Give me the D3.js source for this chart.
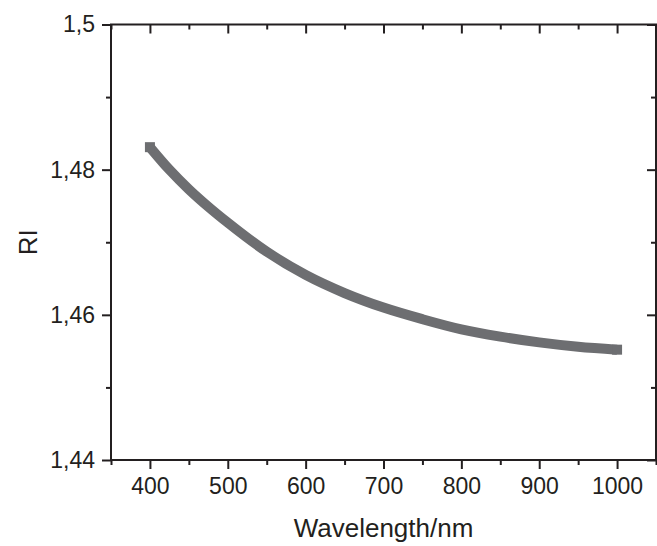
<!DOCTYPE html>
<html>
<head>
<meta charset="utf-8">
<script src="https://cdn.jsdelivr.net/npm/d3@7"></script>
<style>
  body { margin: 0; background: #fff; }
  text { font-family: "Liberation Sans", Arial, sans-serif; fill: #231f20; }
</style>
</head>
<body>
<div id="chart"></div>
<script>
(function(d3) {
  'use strict';

  // data
  var wavelength = [400, 425, 450, 475, 500, 550, 600, 650, 700, 750, 800, 850, 900, 950, 1000];
  var ri = [1.4831, 1.4800, 1.4773, 1.4749, 1.4727, 1.4687, 1.4655, 1.4630, 1.4610, 1.4594, 1.4580, 1.4570, 1.4562, 1.4556, 1.4552];
  var xTicks = [400, 500, 600, 700, 800, 900, 1000];
  var xMinor = [350, 450, 550, 650, 750, 850, 950, 1050];
  var yTicks = [1.44, 1.46, 1.48, 1.5];
  var yMinor = [1.45, 1.47, 1.49];

  var width = 657, height = 546;
  var left = 111, right = 656, top = 24.5, bottom = 460;
  var ink = '#231f20';
  var grey = '#6d6e71';

  var svg = d3.select('#chart').append('svg')
    .attr('width', width)
    .attr('height', height);

  var x = d3.scaleLinear().domain([350, 1050]).range([left, right]);
  var y = d3.scaleLinear().domain([1.44, 1.5]).range([bottom, top]);

  var fmt = function(d) { return String(d).replace('.', ','); };

  // curve
  var pts = wavelength.map(function(w, i) { return [w, ri[i]]; });
  var line = d3.line()
    .x(function(d) { return x(d[0]); })
    .y(function(d) { return y(d[1]); })
    .curve(d3.curveMonotoneX);

  svg.append('path')
    .datum(pts)
    .attr('d', line)
    .attr('fill', 'none')
    .attr('stroke', grey)
    .attr('stroke-width', 10);

  // square markers at the two ends
  svg.selectAll('rect.mk')
    .data([pts[0], pts[pts.length - 1]])
    .enter()
    .append('rect')
    .attr('class', 'mk')
    .attr('x', function(d) { return x(d[0]) - 5; })
    .attr('y', function(d) { return y(d[1]) - 5; })
    .attr('width', 10)
    .attr('height', 10)
    .attr('fill', grey);

  // axes: bottom/left ticks point out, top/right point in
  svg.append('g').attr('transform', 'translate(0,' + bottom + ')')
    .call(d3.axisBottom(x).tickValues(xTicks).tickFormat(fmt).tickSize(9).tickPadding(9));
  svg.append('g').attr('transform', 'translate(0,' + bottom + ')')
    .call(d3.axisBottom(x).tickValues(xMinor).tickFormat('').tickSize(5));
  svg.append('g').attr('transform', 'translate(0,' + top + ')')
    .call(d3.axisBottom(x).tickValues(xTicks).tickFormat('').tickSize(9));
  svg.append('g').attr('transform', 'translate(0,' + top + ')')
    .call(d3.axisBottom(x).tickValues(xMinor).tickFormat('').tickSize(5));

  svg.append('g').attr('transform', 'translate(' + left + ',0)')
    .call(d3.axisLeft(y).tickValues(yTicks).tickFormat(fmt).tickSize(9).tickPadding(7));
  svg.append('g').attr('transform', 'translate(' + left + ',0)')
    .call(d3.axisLeft(y).tickValues(yMinor).tickFormat('').tickSize(5));
  svg.append('g').attr('transform', 'translate(' + right + ',0)')
    .call(d3.axisLeft(y).tickValues(yTicks).tickFormat('').tickSize(9));
  svg.append('g').attr('transform', 'translate(' + right + ',0)')
    .call(d3.axisLeft(y).tickValues(yMinor).tickFormat('').tickSize(5));

  svg.selectAll('.domain').remove();
  svg.selectAll('.tick line').attr('stroke', ink).attr('stroke-width', 2);
  svg.selectAll('.tick text').style('font-size', '23px').attr('fill', ink);

  // frame
  svg.append('rect')
    .attr('x', left).attr('y', top)
    .attr('width', right - left).attr('height', bottom - top)
    .attr('fill', 'none')
    .attr('stroke', ink)
    .attr('stroke-width', 2);

  svg.append('text')
    .attr('x', (left + right) / 2)
    .attr('y', 537)
    .attr('text-anchor', 'middle')
    .style('font-size', '26px')
    .text('Wavelength/nm');

  svg.append('text')
    .attr('transform', 'translate(37,' + ((top + bottom) / 2) + ') rotate(-90)')
    .attr('text-anchor', 'middle')
    .style('font-size', '26px')
    .text('RI');
})(window.d3);
</script>
</body>
</html>
